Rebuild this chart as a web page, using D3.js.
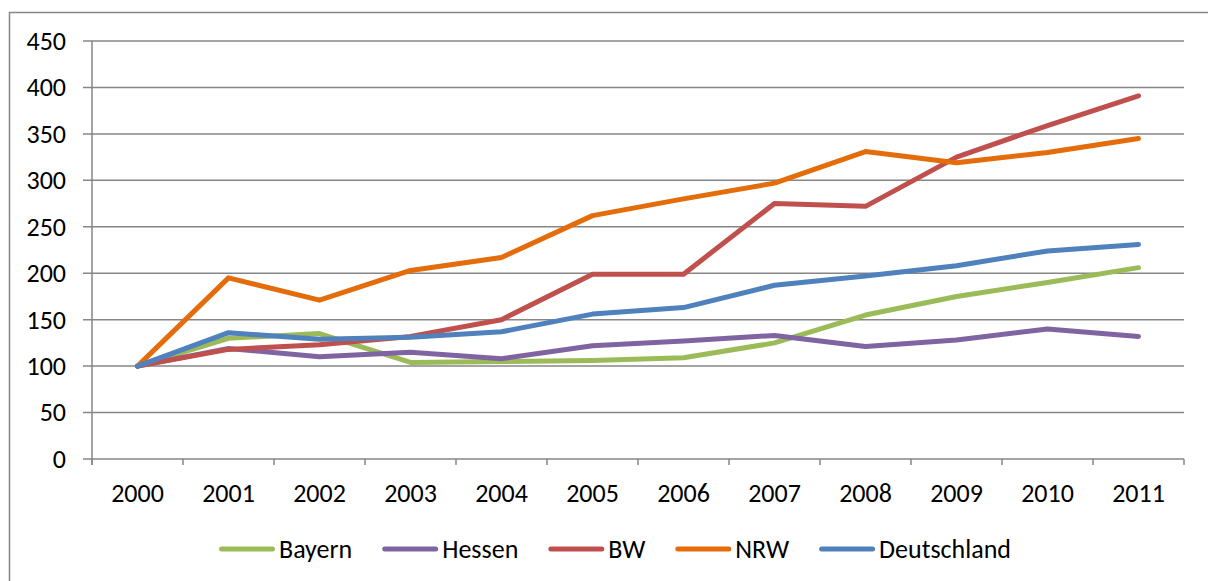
<!DOCTYPE html>
<html>
<head>
<meta charset="utf-8">
<script src="https://cdn.jsdelivr.net/npm/d3@7"></script>
<style>
  html, body { margin: 0; padding: 0; background: #fff; }
  svg { display: block; }
  text { font-family: Carlito, Calibri, Lato, sans-serif; fill: #000; }
</style>
</head>
<body>
<svg id="chart" width="1208" height="581"></svg>
<script>
// Index values (2000 = 100)
const years = ["2000","2001","2002","2003","2004","2005","2006","2007","2008","2009","2010","2011"];
const bayern      = [100, 130, 135, 104, 105, 106, 109, 125, 155, 175, 190, 206];
const hessen      = [100, 119, 110, 115, 108, 122, 127, 133, 121, 128, 140, 132];
const bw          = [100, 118, 123, 132, 150, 199, 199, 275, 272, 325, 359, 391];
const nrw         = [100, 195, 171, 203, 217, 262, 280, 297, 331, 319, 330, 345];
const deutschland = [100, 136, 129, 131, 137, 156, 163, 187, 197, 208, 224, 231];
const yTicks = [0, 50, 100, 150, 200, 250, 300, 350, 400, 450];

const seriesNames = ["Bayern", "Hessen", "BW", "NRW", "Deutschland"];
const seriesValues = [bayern, hessen, bw, nrw, deutschland];
const seriesColors = ["#9BBB59", "#8064A2", "#C0504D", "#E46C0A", "#4F81BD"];

const svg = d3.select("#chart");
const plot = { left: 92, right: 1184, top: 41, bottom: 459 };
const grid = "#868686";
const fontSize = 26;

// chart frame (runs off the right and bottom edges)
svg.append("path")
  .attr("d", "M9.5,600 V12.5 H1220")
  .attr("fill", "none").attr("stroke", grid).attr("stroke-width", 1.5);

const x = d3.scaleBand().domain(years).range([plot.left, plot.right]);
const y = d3.scaleLinear().domain([0, 450]).range([plot.bottom, plot.top]);

// horizontal gridlines
svg.append("g").selectAll("line").data(yTicks).join("line")
  .attr("x1", plot.left - 9).attr("x2", plot.right)
  .attr("y1", d => y(d)).attr("y2", d => y(d))
  .attr("stroke", grid).attr("stroke-width", 1.5);

// value axis line
svg.append("line")
  .attr("x1", plot.left).attr("x2", plot.left)
  .attr("y1", plot.top).attr("y2", plot.bottom + 6)
  .attr("stroke", grid).attr("stroke-width", 1.5);

// category tick marks at band edges
const edges = years.map(d => x(d)).concat([plot.right]);
svg.append("g").selectAll("line").data(edges).join("line")
  .attr("x1", d => d).attr("x2", d => d)
  .attr("y1", plot.bottom).attr("y2", plot.bottom + 6)
  .attr("stroke", grid).attr("stroke-width", 1.5);

// value labels
svg.append("g").selectAll("text").data(yTicks).join("text")
  .attr("x", 66).attr("y", d => y(d))
  .attr("dy", "0.34em")
  .attr("text-anchor", "end")
  .attr("font-size", fontSize)
  .text(d => d);

// category labels
svg.append("g").selectAll("text").data(years).join("text")
  .attr("x", d => x(d) + x.bandwidth() / 2).attr("y", 493)
  .attr("dy", "0.34em")
  .attr("text-anchor", "middle")
  .attr("font-size", fontSize)
  .text(d => d);

// series lines
const line = d3.line()
  .x((d, i) => x(years[i]) + x.bandwidth() / 2)
  .y(d => y(d));

svg.append("g").selectAll("path").data(seriesValues).join("path")
  .attr("d", d => line(d))
  .attr("fill", "none")
  .attr("stroke", (d, i) => seriesColors[i])
  .attr("stroke-width", 5)
  .attr("stroke-linejoin", "round")
  .attr("stroke-linecap", "round");

// legend
const legend = svg.append("g");
let lx = 219;
const ly = 549;
seriesNames.forEach((name, i) => {
  legend.append("line")
    .attr("x1", lx + 2.5).attr("x2", lx + 53.5)
    .attr("y1", ly).attr("y2", ly)
    .attr("stroke", seriesColors[i]).attr("stroke-width", 5)
    .attr("stroke-linecap", "round");
  const t = legend.append("text")
    .attr("x", lx + 60).attr("y", ly)
    .attr("dy", "0.34em")
    .attr("font-size", fontSize)
    .text(name);
  const w = t.node().getComputedTextLength();
  lx += 60 + w + 30;
});
</script>
</body>
</html>
